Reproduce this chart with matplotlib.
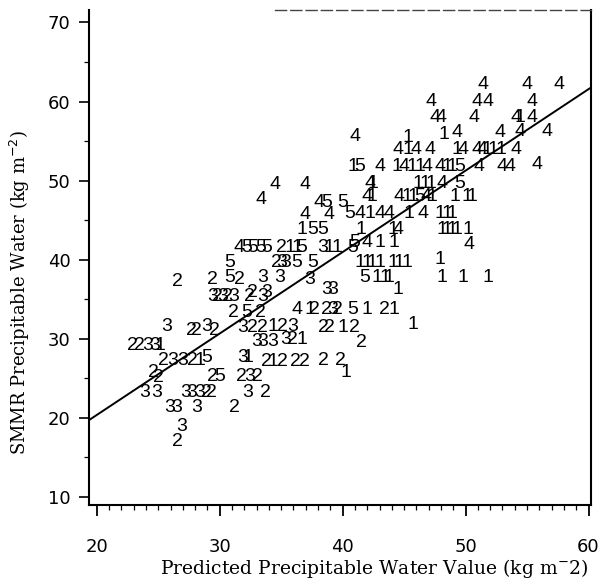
import matplotlib
matplotlib.use("Agg")
import matplotlib.pyplot as plt
from matplotlib.ticker import MultipleLocator

# ---- data: (predicted, SMMR) pairs grouped by class label ----
x1 = [45.3, 48.2, 45.3, 49.3, 51.7, 52.2, 52.9, 40.8, 44.4, 45.6, 46.3, 48.5, 48.9,
      42.5, 46.1, 46.7, 47.2, 42.4, 45.2, 45.7, 47.3, 49.1, 50.1, 50.5, 42.2, 45.4,
      47.9, 48.5, 48.9, 36.7, 41.5, 44.1, 48.1, 48.5, 48.9, 49.3, 50.2, 43.0, 44.2,
      41.4, 42.0, 42.4, 43.0, 44.1, 44.6, 45.2, 47.9, 42.8, 43.4, 43.8, 48.1, 49.8,
      51.8, 44.5, 37.3, 42.0, 44.2, 45.7, 40.0, 40.3, 35.7, 36.3, 38.9, 39.5, 34.3,
      36.7, 25.1, 28.4, 32.3, 34.3, 54.4]
y1 = [55.4, 55.8, 53.9, 53.9, 53.9, 53.9, 53.9, 51.8, 51.8, 51.8, 51.8, 51.8, 51.8,
      49.7, 49.7, 49.7, 49.7, 48.0, 48.0, 48.0, 48.0, 48.0, 48.0, 48.0, 45.9, 45.9,
      45.9, 45.9, 45.9, 43.8, 43.8, 43.8, 43.8, 43.8, 43.8, 43.8, 43.8, 42.2, 42.2,
      39.7, 39.7, 39.7, 39.7, 39.7, 39.7, 39.7, 40.0, 37.7, 37.7, 37.7, 37.7, 37.7,
      37.7, 36.2, 33.7, 33.7, 33.7, 31.8, 31.4, 25.7, 41.5, 41.5, 41.5, 41.5, 31.5,
      29.9, 29.2, 27.3, 27.6, 27.1, 58.0]

x2 = [26.6, 29.4, 31.6, 35.0, 34.6, 30.6, 32.7, 29.8, 32.4, 31.1, 33.3, 37.7, 38.7,
      39.6, 43.4, 38.4, 38.9, 41.0, 41.5, 38.4, 39.8, 32.7, 33.5, 35.1, 35.9, 22.9,
      23.5, 27.7, 28.1, 29.6, 25.4, 27.8, 33.8, 35.1, 36.2, 36.9, 24.6, 25.0, 29.4,
      31.8, 33.1, 33.7, 28.9, 29.3, 31.2, 26.6]
y2 = [37.2, 37.5, 37.5, 41.5, 39.6, 35.3, 35.8, 35.3, 35.3, 33.3, 33.3, 33.7, 33.7,
      33.7, 33.7, 31.4, 31.4, 31.4, 29.5, 27.3, 27.3, 31.4, 31.4, 31.5, 29.9, 29.2,
      29.2, 31.1, 31.1, 31.1, 27.3, 27.3, 27.1, 27.1, 27.1, 27.1, 25.7, 25.1, 25.2,
      25.2, 25.2, 23.2, 23.2, 23.2, 21.3, 17.0]

x3 = [37.3, 33.5, 34.9, 35.0, 35.4, 29.4, 31.1, 30.2, 33.5, 33.8, 38.7, 39.2, 39.2,
      25.7, 28.9, 31.9, 35.9, 33.0, 33.5, 34.3, 35.4, 24.1, 24.7, 26.2, 27.0, 31.9,
      32.4, 23.9, 24.9, 27.2, 27.7, 28.4, 32.3, 25.9, 26.5, 28.1, 26.9, 38.4]
y3 = [37.5, 37.7, 37.7, 39.6, 39.6, 35.3, 35.3, 35.3, 35.3, 35.8, 36.2, 36.2, 33.7,
      31.5, 31.5, 31.4, 31.5, 29.6, 29.6, 29.6, 29.9, 29.2, 29.2, 27.3, 27.3, 27.6,
      25.2, 23.2, 23.2, 23.2, 23.2, 23.2, 23.2, 21.3, 21.3, 21.3, 18.9, 41.5]

x4 = [51.4, 55.0, 57.6, 47.2, 50.9, 51.8, 55.4, 47.5, 48.0, 50.7, 54.1, 55.4, 41.0,
      49.3, 52.8, 54.4, 56.6, 44.5, 46.0, 47.1, 49.8, 50.9, 51.3, 54.1, 43.0, 45.0,
      46.9, 47.9, 51.1, 53.0, 53.6, 55.8, 36.9, 34.5, 42.2, 48.1, 33.4, 38.1, 42.0,
      44.6, 46.8, 36.9, 38.9, 41.4, 43.0, 43.8, 46.5, 44.5, 50.3, 42.0, 36.3, 31.6]
y4 = [62.2, 62.2, 62.2, 60.0, 60.0, 60.0, 60.0, 58.0, 58.0, 58.0, 58.0, 58.0, 55.6,
      56.1, 56.1, 56.2, 56.2, 53.9, 53.9, 53.9, 53.9, 53.9, 53.9, 53.9, 51.8, 51.8,
      51.8, 51.8, 51.8, 51.8, 51.8, 52.0, 49.5, 49.5, 49.7, 49.7, 47.6, 47.3, 48.0,
      48.0, 48.0, 45.7, 45.7, 45.9, 45.9, 45.9, 45.9, 43.8, 41.9, 42.2, 33.7, 41.5]

x5 = [41.4, 49.5, 49.5, 38.7, 40.0, 46.3, 40.6, 37.6, 38.4, 41.0, 41.8, 40.8, 32.2,
      32.7, 33.3, 33.8, 40.8, 30.8, 30.8, 36.3, 37.6, 32.2, 28.9, 30.0, 36.7]
y5 = [51.8, 51.8, 49.7, 47.3, 47.3, 48.0, 45.9, 43.8, 43.8, 42.2, 37.7, 33.7, 41.5,
      41.5, 41.5, 41.5, 41.6, 39.6, 37.8, 39.6, 39.6, 33.3, 27.7, 25.2, 41.5]

classes = ["1", "2", "3", "4", "5"]
xs = [x1, x2, x3, x4, x5]
ys = [y1, y2, y3, y4, y5]

fit_slope = 1.03
fit_intercept = -0.23

x_ticks = [20, 30, 40, 50, 60]
y_ticks = [10, 20, 30, 40, 50, 60, 70]

# ---- figure ----
fig = plt.figure(figsize=(6.08, 5.79), dpi=100)
ax = fig.add_axes([0.146, 0.128, 0.826, 0.855])
ax.set_xlim(19.35, 60.2)
ax.set_ylim(9.0, 71.6)

for lab, xv, yv in zip(classes, xs, ys):
    for xi, yi in zip(xv, yv):
        ax.text(xi, yi, lab, ha="center", va="center", fontsize=14,
                family="Liberation Sans", color="black")

ax.axline((0, fit_intercept), slope=fit_slope, color="black", lw=1.4)

ax.set_xticks(x_ticks)
ax.set_yticks(y_ticks)
ax.xaxis.set_minor_locator(MultipleLocator(1))
ax.yaxis.set_minor_locator(MultipleLocator(5))
ax.tick_params(axis="x", which="major", direction="out", length=8, width=1.3,
               labelsize=13, pad=16)
ax.tick_params(axis="y", which="major", direction="out", length=7, width=1.2,
               labelsize=13, pad=6)
ax.tick_params(axis="both", which="minor", direction="out", length=3.5, width=0.9)
for lbl in ax.get_xticklabels() + ax.get_yticklabels():
    lbl.set_family("DejaVu Sans")

for s in ["left", "bottom", "right"]:
    ax.spines[s].set_linewidth(1.5)
ax.spines["top"].set_linewidth(1.0)
ax.spines["top"].set_linestyle((0, (8, 3)))
ax.spines["top"].set_color("#444444")
ax.spines["top"].set_bounds(34.5, 60.2)

ax.set_xlabel("Predicted Precipitable Water Value (kg m$^{-}$2)",
              family="DejaVu Serif", fontsize=13.5)
ax.xaxis.set_label_coords(0.568, -0.105)
ax.set_ylabel("SMMR Precipitable Water (kg m$^{-2}$)",
              family="DejaVu Serif", fontsize=13)
ax.yaxis.set_label_coords(-0.113, 0.43)

fig.savefig("out.png", dpi=100, facecolor="white")
